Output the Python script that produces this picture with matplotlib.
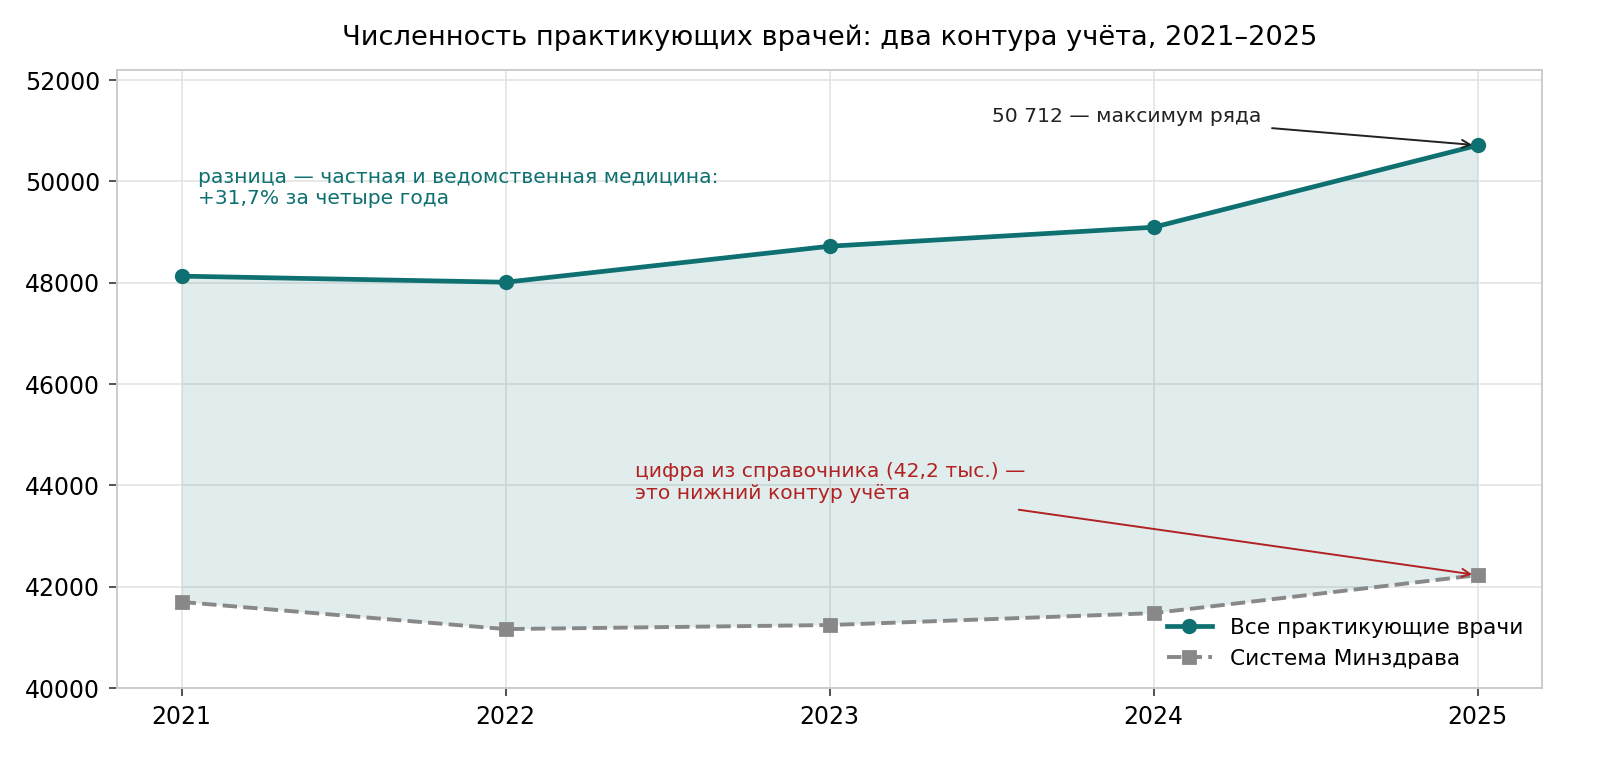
import matplotlib
matplotlib.use("Agg")
import matplotlib.pyplot as plt

years = [2021, 2022, 2023, 2024, 2025]
all_doctors = [48130, 48010, 48720, 49095, 50712]
minzdrav = [41700, 41165, 41245, 41480, 42230]

teal = "#0e7070"
gray = "#888888"
red = "#b22222"

plt.rcParams['font.family'] = ['DejaVu Sans']
fig, ax = plt.subplots(figsize=(8, 3.84), dpi=200)
fig.subplots_adjust(left=0.073, right=0.964, top=0.909, bottom=0.104)

ax.fill_between(years, minzdrav, all_doctors, color=teal, alpha=0.12, linewidth=0)
ax.plot(years, all_doctors, color=teal, lw=1.7, marker='o', ms=4.5,
        label="Все практикующие врачи", zorder=3)
ax.plot(years, minzdrav, color=gray, lw=1.4, ls='--', marker='s', ms=4.5,
        label="Система Минздрава", zorder=3)

ax.set_xlim(2020.8, 2025.2)
ax.set_ylim(40000, 52200)
ax.set_xticks(years)
ax.set_xticklabels([str(y) for y in years])
ax.set_yticks(range(40000, 52001, 2000))
ax.tick_params(labelsize=8.5, length=3, width=0.6, color="#333333", pad=3)
ax.grid(True, color="#e4e4e4", lw=0.6)
ax.set_axisbelow(True)
for s in ax.spines.values():
    s.set_color("#cccccc")
    s.set_linewidth(0.7)

ax.set_title("Численность практикующих врачей: два контура учёта, 2021–2025",
             fontsize=9.8, pad=9)

ax.annotate("50 712 — максимум ряда", xy=(2025, all_doctors[-1]),
            xytext=(2023.5, 51290), ha='left', va='center', fontsize=7.3,
            color="#222222",
            arrowprops=dict(arrowstyle='->', color="#222222", lw=0.7))
ax.annotate("цифра из справочника (42,2 тыс.) —\nэто нижний контур учёта",
            xy=(2025, minzdrav[-1]), xytext=(2022.4, 44050), ha='left', va='center',
            fontsize=7.3, color=red,
            arrowprops=dict(arrowstyle='->', color=red, lw=0.7))
ax.text(2021.05, 49870, "разница — частная и ведомственная медицина:\n+31,7% за четыре года",
        ha='left', va='center', fontsize=7.3, color=teal, linespacing=1.1)

ax.legend(loc='lower right', frameon=False, fontsize=7.8, handlelength=2.1,
          borderaxespad=0.5)

fig.savefig("out.png", dpi=200)
